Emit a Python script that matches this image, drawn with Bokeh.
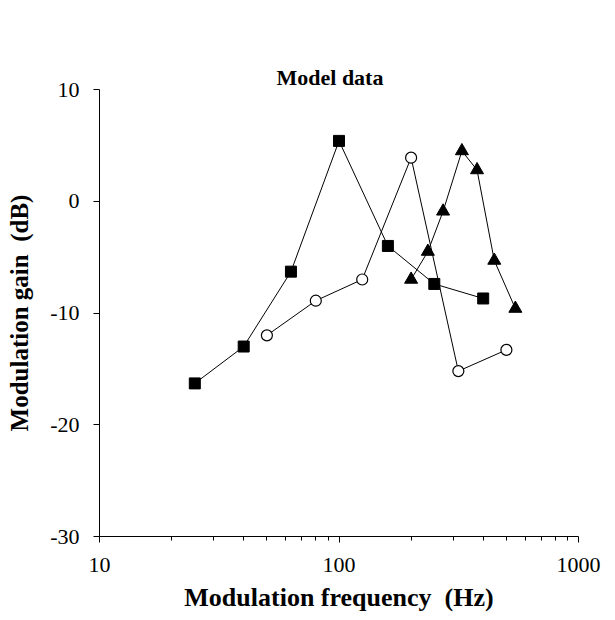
from bokeh.plotting import figure
from bokeh.models import Range1d, FixedTicker, Title
from bokeh.embed import file_html
from bokeh.resources import INLINE

# Series 1: filled squares
sq_freq = [25, 40, 63, 100, 160, 250, 400]
sq_gain = [-16.3, -13.0, -6.3, 5.4, -4.0, -7.4, -8.7]
# Series 2: open circles
ci_freq = [50, 80, 125, 200, 315, 500]
ci_gain = [-12.0, -8.9, -7.0, 3.9, -15.2, -13.3]
# Series 3: filled triangles
tr_freq = [200, 235, 272, 326, 377, 445, 545]
tr_gain = [-7.0, -4.5, -0.9, 4.5, 2.8, -5.3, -9.6]

x_ticks = [10, 100, 1000]
x_tick_labels = ["10", "100", "1000"]
x_minor = [20, 30, 40, 50, 60, 70, 80, 90, 200, 300, 400, 500, 600, 700, 800, 900]
y_ticks = [-30, -20, -10, 0, 10]
y_tick_labels = ["-30", "-20", "-10", "0", "10"]

TITLE = "Model data"
FONT = "Liberation Serif"

p = figure(width=615, height=620, x_axis_type="log",
           x_range=Range1d(10, 1000), y_range=Range1d(-30, 10),
           output_backend="svg", toolbar_location=None,
           min_border_left=99, min_border_right=37,
           min_border_top=89, min_border_bottom=84)

# invisible spacer panel next to the frame, then the title above it
spacer = Title(text=".", text_font_size="1px", standoff=55, text_alpha=0)
p.add_layout(spacer, "above")
main_title = Title(text=TITLE, text_font=FONT, text_font_size="22px",
                   text_font_style="bold", text_color="black",
                   align="left", offset=177, vertical_align="bottom", standoff=0)
p.add_layout(main_title, "above")

p.outline_line_color = None
p.grid.visible = False
p.background_fill_color = "white"
p.border_fill_color = "white"

xa = p.xaxis[0]
xa.ticker = FixedTicker(ticks=x_ticks, minor_ticks=x_minor)
xa.major_label_overrides = {t: l for t, l in zip(x_ticks, x_tick_labels)}
xa.axis_label = "Modulation frequency\u00a0\u00a0(Hz)"
ya = p.yaxis[0]
ya.ticker = FixedTicker(ticks=y_ticks)
ya.major_label_overrides = {t: l for t, l in zip(y_ticks, y_tick_labels)}
ya.axis_label = "Modulation gain\u00a0\u00a0(dB)"

for ax in (xa, ya):
    ax.axis_line_color = "black"
    ax.axis_line_width = 1
    ax.major_tick_line_color = "black"
    ax.minor_tick_line_color = "black"
    ax.major_tick_in = 0
    ax.major_tick_out = 6
    ax.minor_tick_in = 0
    ax.minor_tick_out = 4
    ax.major_label_text_font = FONT
    ax.major_label_text_font_size = "22px"
    ax.major_label_text_color = "black"
    ax.axis_label_text_font = FONT
    ax.axis_label_text_font_style = "bold"
    ax.axis_label_text_color = "black"

xa.major_label_standoff = 15
xa.axis_label_text_font_size = "26px"
xa.axis_label_standoff = 8
ya.major_label_standoff = 14
ya.axis_label_text_font_size = "25px"
ya.axis_label_standoff = 14
ya.minor_tick_out = 0

p.line(sq_freq, sq_gain, line_color="black", line_width=1)
p.scatter(sq_freq, sq_gain, marker="square", size=11,
          fill_color="black", line_color="black")

p.line(ci_freq, ci_gain, line_color="black", line_width=1)
p.scatter(ci_freq, ci_gain, marker="circle", size=11,
          fill_color="white", line_color="black", line_width=1.2)

p.line(tr_freq, tr_gain, line_color="black", line_width=1)
p.scatter(tr_freq, tr_gain, marker="triangle", size=13,
          fill_color="black", line_color="black")

open("out.html", "w").write(file_html(p, INLINE))
